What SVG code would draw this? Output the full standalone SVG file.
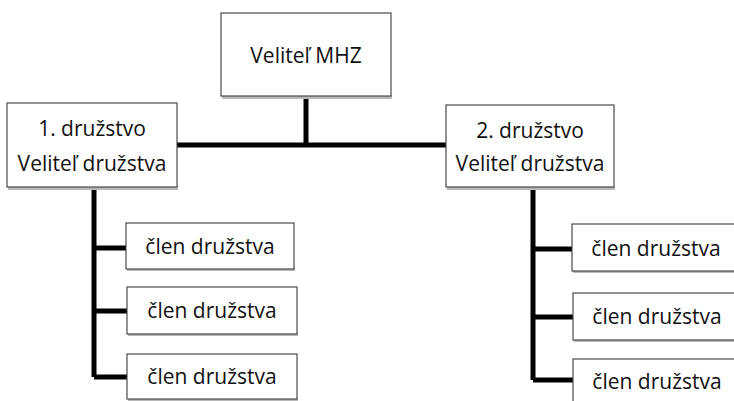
<svg xmlns="http://www.w3.org/2000/svg" width="734" height="401" viewBox="0 0 734 401">
<style>
.box{fill:#fff;stroke:#4a4a4a;stroke-width:1.2}
.sh{fill:#b8b8b8}
.t{font-family:"Open Sans","Liberation Sans",sans-serif;font-size:21px;fill:#111;text-anchor:middle}
.c{stroke:#000;stroke-width:5;fill:none}
</style>
<rect width="734" height="401" fill="#fff"/>
<g id="connectors">
<path class="c" d="M306 96V145M177 145H446"/>
<path class="c" d="M94 187V377M94 248H127M94 311H128M94 377H128"/>
<path class="c" d="M533 187V380M533 249H573M533 317H574M533 380H574"/>
</g>
<g id="mhz">
<rect class="sh" x="222" y="95" width="170" height="4"/>
<rect class="box" x="221" y="13" width="170" height="83"/>
<text class="t" x="306" y="63">Veliteľ MHZ</text>
</g>
<g id="d1">
<rect class="sh" x="8" y="186" width="170" height="4"/>
<rect class="box" x="7" y="103" width="170" height="84"/>
<text class="t" x="92" y="136">1. družstvo</text>
<text class="t" x="92" y="171">Veliteľ družstva</text>
</g>
<g id="d2">
<rect class="sh" x="447" y="186" width="168" height="4"/>
<rect class="box" x="446" y="105" width="168" height="82"/>
<text class="t" x="530" y="138">2. družstvo</text>
<text class="t" x="530" y="171">Veliteľ družstva</text>
</g>
<g id="m1a">
<rect class="sh" x="127" y="268" width="168" height="3"/>
<rect class="box" x="126" y="223" width="168" height="46"/>
<text class="t" x="210" y="254">člen družstva</text>
</g>
<g id="m1b">
<rect class="sh" x="128" y="333" width="170" height="3"/>
<rect class="box" x="127" y="287" width="170" height="47"/>
<text class="t" x="212" y="318">člen družstva</text>
</g>
<g id="m1c">
<rect class="sh" x="128" y="398" width="170" height="3"/>
<rect class="box" x="127" y="354" width="170" height="45"/>
<text class="t" x="212" y="384">člen družstva</text>
</g>
<g id="m2a">
<rect class="sh" x="573" y="270" width="170" height="3"/>
<rect class="box" x="572" y="224" width="170" height="47"/>
<text class="t" x="656" y="256">člen družstva</text>
</g>
<g id="m2b">
<rect class="sh" x="574" y="339" width="170" height="3"/>
<rect class="box" x="573" y="293" width="170" height="47"/>
<text class="t" x="657" y="324">člen družstva</text>
</g>
<g id="m2c">
<rect class="box" x="573" y="359" width="170" height="50"/>
<text class="t" x="657" y="389">člen družstva</text>
</g>
</svg>
